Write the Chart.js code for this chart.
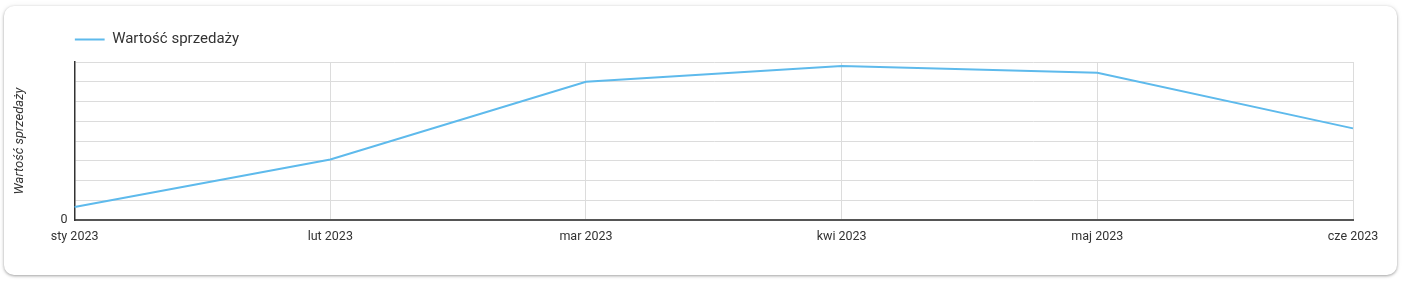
<!DOCTYPE html>
<html>
<head>
<meta charset="utf-8">
<script src="https://cdn.jsdelivr.net/npm/chart.js@4.4.1/dist/chart.umd.min.js"></script>
<style>
    body {
        margin: 0;
        background: #fff;
        font-family: Roboto, sans-serif;
    }
    .card {
        position: absolute;
        left: 4px;
        top: 6px;
        width: 1393px;
        height: 269px;
        background: #fff;
        border-radius: 10px;
        box-shadow: 0 1px 3px rgba(0, 0, 0, 0.35), 0 0 6px rgba(0, 0, 0, 0.06);
    }
    .card canvas {
        display: block;
    }
</style>
</head>
<body>
<div class="card">
    <canvas id="sales-chart" width="1393" height="269"></canvas>
</div>
<script>
const months = ['sty 2023', 'lut 2023', 'mar 2023', 'kwi 2023', 'maj 2023', 'cze 2023'];
const salesValues = [3300, 15300, 35000, 39000, 37300, 23200];
const seriesLabel = 'Wartość sprzedaży';

const lineColor = 'rgb(94, 186, 236)';

// push the chart area down a bit below the legend
const legendSpacing = {
    id: 'legendSpacing',
    beforeInit(chart) {
        const fit = chart.legend.fit;
        chart.legend.fit = function () {
            fit.bind(chart.legend)();
            this.height += 5;
        };
    }
};

Chart.defaults.font.family = 'Roboto, sans-serif';
Chart.defaults.color = '#333';

const canvas = document.querySelector('#sales-chart');

new Chart(canvas.getContext('2d'), {
    type: 'line',
    data: {
        labels: months,
        datasets: [{
            label: seriesLabel,
            data: salesValues,
            borderColor: lineColor,
            backgroundColor: lineColor,
            borderWidth: 2,
            pointRadius: 0,
            tension: 0
        }]
    },
    options: {
        responsive: false,
        animation: false,
        layout: {
            padding: { left: 4, right: 44, top: 26, bottom: 22 }
        },
        plugins: {
            legend: {
                position: 'top',
                align: 'start',
                fullSize: false,
                labels: {
                    usePointStyle: true,
                    pointStyle: 'line',
                    pointStyleWidth: 30,
                    padding: 0,
                    color: '#333',
                    font: { size: 15 }
                }
            },
            tooltip: { enabled: false }
        },
        scales: {
            x: {
                offset: false,
                grid: {
                    color: '#dcdcdc',
                    drawTicks: false
                },
                border: {
                    color: '#555',
                    width: 2
                },
                ticks: {
                    padding: 9,
                    maxRotation: 0,
                    autoSkip: false,
                    color: '#333',
                    font: { size: 12.5 }
                }
            },
            y: {
                min: 0,
                max: 40000,
                grid: {
                    color: '#dcdcdc',
                    drawTicks: false
                },
                border: {
                    color: '#333',
                    width: 1.5
                },
                ticks: {
                    stepSize: 5000,
                    padding: 7,
                    color: '#333',
                    font: { size: 12.5 },
                    callback: value => value === 0 ? '0' : ''
                },
                title: {
                    display: true,
                    text: seriesLabel,
                    color: '#333',
                    font: { size: 13, style: 'italic' },
                    padding: { top: 4, bottom: 26 }
                }
            }
        }
    },
    plugins: [legendSpacing]
});
</script>
</body>
</html>
